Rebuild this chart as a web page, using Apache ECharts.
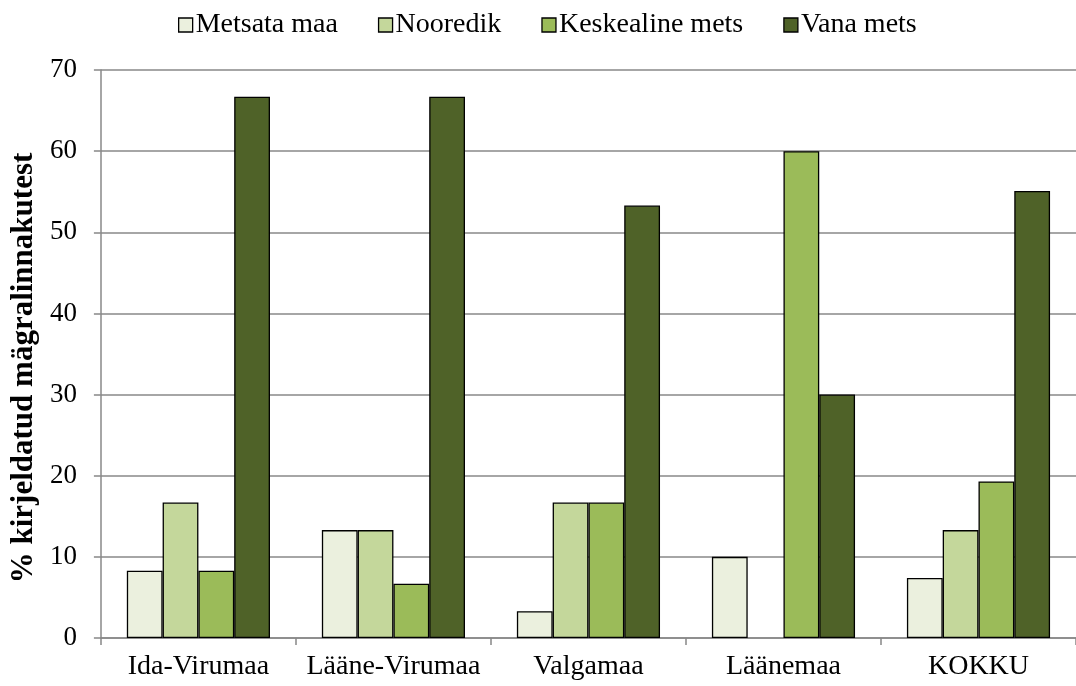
<!DOCTYPE html>
<html>
<head>
<meta charset="utf-8">
<script src="https://cdn.jsdelivr.net/npm/echarts@6/dist/echarts.min.js"></script>
<style>
  html, body { margin: 0; padding: 0; background: #fff; overflow: hidden; }
  #chart { width: 1076px; height: 686px; }
</style>
</head>
<body>
<div id="chart"></div>
<script>
// andmed
var maakonnad = ["Ida-Virumaa", "Lääne-Virumaa", "Valgamaa", "Läänemaa", "KOKKU"];
var metsataMaa = [8.3, 13.3, 3.3, 10, 7.4];
var nooredik = [16.7, 13.3, 16.7, 0, 13.3];
var keskealineMets = [8.3, 6.7, 16.7, 60, 19.3];
var vanaMets = [66.7, 66.7, 53.3, 30, 55.1];
var yTicks = [0, 10, 20, 30, 40, 50, 60, 70];

var font = "'Liberation Serif', 'Times New Roman', serif";
var chart = echarts.init(document.getElementById("chart"));

function bar(name, data, color) {
    return {
        name: name,
        type: "bar",
        // nullväärtusega tulbal pole äärejoont
        data: data.map(function (v) {
            return v === 0 ? { value: v, itemStyle: { borderWidth: 0 } } : v;
        }),
        barGap: "0%",
        barCategoryGap: "26.6%",
        itemStyle: { color: color, borderColor: "#000", borderWidth: 1.3 }
    };
}

chart.setOption({
    animation: false,
    textStyle: { fontFamily: font },
    legend: {
        top: 6,
        left: 173,
        itemWidth: 14,
        itemHeight: 14,
        itemGap: 40,
        icon: "rect",
        textStyle: { fontFamily: font, fontSize: 28, color: "#000", padding: [0, 0, 0, -2] },
        itemStyle: { borderColor: "#000", borderWidth: 1.3 }
    },
    // joonis on paremalt ära lõigatud, seepärast ulatub ala üle serva
    grid: { left: 98, width: 981, top: 70, bottom: 48 },
    xAxis: {
        type: "category",
        data: maakonnad,
        axisLine: { lineStyle: { color: "#888", width: 1.5 } },
        axisTick: { show: true, interval: 0, length: 7, lineStyle: { color: "#888", width: 1.5 } },
        axisLabel: { interval: 0, fontFamily: font, fontSize: 28, color: "#000", margin: 15 }
    },
    yAxis: {
        type: "value",
        min: yTicks[0],
        max: yTicks[yTicks.length - 1],
        interval: 10,
        name: "% kirjeldatud mägralinnakutest",
        nameLocation: "middle",
        nameGap: 60,
        nameTextStyle: {
            fontFamily: font, fontSize: 31, fontWeight: "bold", color: "#000",
            padding: [0, 28, 0, 0]
        },
        axisLine: { show: true, lineStyle: { color: "#888", width: 1.5 } },
        axisTick: { show: true, length: 7, lineStyle: { color: "#888", width: 1.5 } },
        axisLabel: { fontFamily: font, fontSize: 27, color: "#000", margin: 24 },
        splitLine: { lineStyle: { color: "#888", width: 1.5 } }
    },
    series: [
        bar("Metsata maa", metsataMaa, "#EBF0DE"),
        bar("Nooredik", nooredik, "#C4D79B"),
        bar("Keskealine mets", keskealineMets, "#9BBB59"),
        bar("Vana mets", vanaMets, "#4F6228")
    ]
});
</script>
</body>
</html>
